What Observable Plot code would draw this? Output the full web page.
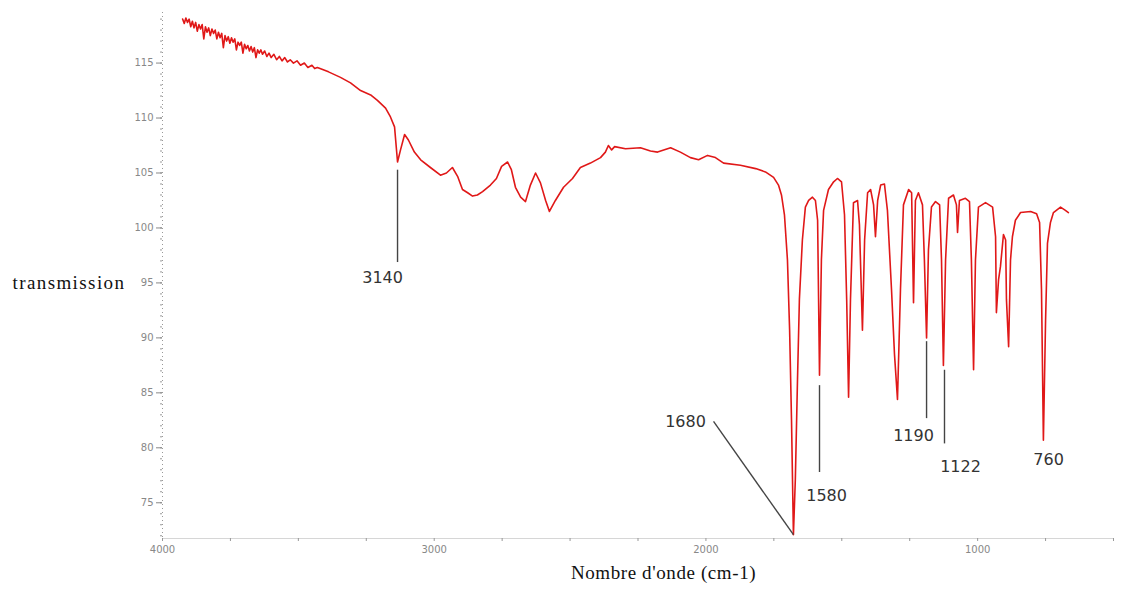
<!DOCTYPE html>
<html><head><meta charset="utf-8">
<script src="https://cdn.jsdelivr.net/npm/d3@7"></script>
<script src="https://cdn.jsdelivr.net/npm/@observablehq/plot@0.6"></script>
<style>body{margin:0;background:#fff}</style>
</head><body><div id="chart"></div>
<script>
// IR spectrum (wavenumber cm-1, transmission)
const wavenumber = [3926,3920,3914,3908,3902,3896,3890,3884,3878,3872,3866,3860,3854,3848,3842,3836,3830,3824,3818,3812,3806,3800,3794,3788,3782,3776,3770,3764,3758,3752,3746,3740,3734,3728,3722,3716,3710,3704,3698,3692,3686,3680,3674,3668,3662,3656,3650,3644,3638,3632,3624,3616,3608,3600,3590,3580,3570,3560,3550,3540,3530,3518,3505,3492,3478,3465,3450,3440,3430,3389,3345,3308,3271,3234,3209,3179,3161,3146,3135,3124,3109,3095,3073,3050,3014,2977,2955,2933,2914,2896,2877,2859,2841,2822,2793,2771,2752,2730,2716,2701,2682,2664,2646,2627,2609,2590,2576,2554,2524,2491,2462,2425,2388,2370,2359,2347,2336,2296,2241,2204,2178,2130,2094,2057,2027,1994,1965,1935,1873,1817,1781,1751,1733,1722,1711,1700,1692,1685,1678,1671,1663,1656,1645,1634,1622,1608,1597,1589,1582,1575,1567,1549,1530,1516,1501,1490,1482,1475,1468,1457,1442,1435,1424,1416,1405,1394,1383,1376,1368,1357,1343,1332,1317,1306,1295,1284,1273,1254,1243,1236,1229,1218,1203,1196,1188,1181,1170,1155,1140,1133,1126,1118,1107,1089,1078,1074,1067,1045,1030,1023,1015,1008,997,971,945,934,931,923,916,905,897,894,886,879,872,861,842,805,783,772,765,758,750,743,732,721,695,677,666];
const transmission = [119.0,118.6,119.1,118.7,119.0,118.3,118.8,118.2,118.7,117.9,118.5,118.1,118.5,117.2,118.3,117.8,118.2,117.5,118.1,117.7,118.0,117.2,117.8,117.3,117.7,116.4,117.5,117.0,117.4,116.8,117.3,116.9,117.2,116.2,116.9,116.6,116.9,115.9,116.7,116.3,116.6,116.1,116.5,116.0,116.4,115.5,116.2,115.9,116.2,115.8,116.1,115.6,115.9,115.5,115.8,115.3,115.6,115.2,115.5,115.1,115.3,115.0,115.2,114.8,115.0,114.6,114.8,114.5,114.6,114.2,113.7,113.2,112.5,112.1,111.6,110.9,110.1,109.2,106.0,107.1,108.5,108.0,106.9,106.2,105.5,104.8,105.0,105.5,104.7,103.5,103.2,102.9,103.0,103.3,103.9,104.5,105.6,106.0,105.3,103.7,102.8,102.4,103.9,105.0,104.1,102.5,101.5,102.5,103.7,104.5,105.5,105.9,106.4,106.9,107.5,107.1,107.4,107.2,107.3,107.0,106.9,107.3,106.9,106.4,106.2,106.6,106.4,105.9,105.7,105.4,105.1,104.6,103.9,103.0,101.2,97.1,90.7,82.5,72.1,77.1,86.2,93.5,98.9,101.9,102.5,102.8,102.5,100.7,86.6,97.1,101.6,103.5,104.2,104.5,104.2,101.2,93.5,84.6,93.5,102.3,102.5,100.3,90.7,98.9,103.2,103.5,102.1,99.2,102.5,103.9,104.0,101.6,94.4,88.5,84.4,94.4,102.1,103.5,103.2,93.2,102.5,103.2,102.1,97.1,90.0,98.0,101.9,102.4,102.1,97.1,87.5,97.1,102.7,103.0,102.1,99.6,102.5,102.7,102.4,97.1,87.1,97.1,101.9,102.3,101.9,99.2,92.3,95.3,96.5,99.4,98.9,93.5,89.2,97.1,99.2,100.7,101.4,101.5,101.3,100.5,94.4,80.7,91.6,98.6,100.5,101.4,101.9,101.6,101.4];

// Axis ticks
const xDomain = [4000, 500];
const yDomain = [71.75, 119.6];
const xLabelTicks = [4000, 3000, 2000, 1000];
const xMinorTicks = [4000,3750,3500,3250,3000,2750,2500,2250,2000,1750,1500,1250,1000,750,500];
const yLabelTicks = [75,80,85,90,95,100,105,110,115];
const yMinorTicks = [72,73,74,75,76,77,78,79,80,81,82,83,84,85,86,87,88,89,90,91,92,93,94,95,96,97,98,99,100,101,102,103,104,105,106,107,108,109,110,111,112,113,114,115,116,117,118,119];

// Peak annotations
const annLabels = ["3140","1680","1580","1190","1122","760"];
const annLabelX = [3190,2075,1556,1236,1063,739];
const annLabelY = [95.5,82.4,75.6,81.1,78.3,78.9];
const leaderX1 = [3135,1972,1582,1188,1122];
const leaderY1 = [105.3,82.4,85.7,89.7,87.1];
const leaderX2 = [3135,1678,1582,1188,1122];
const leaderY2 = [96.9,72.1,77.8,82.7,80.4];

const yTitle = "transmission";
const yTitleAt = 95;
const xTitle = "Nombre d'onde (cm-1)";
const xTitleAt = 2156;

const spectrum = wavenumber.map((w, i) => ({w, t: transmission[i]}));
const labels = annLabels.map((s, i) => ({s, x: annLabelX[i], y: annLabelY[i]}));
const leaders = leaderX1.map((x1, i) => ({x1, y1: leaderY1[i], x2: leaderX2[i], y2: leaderY2[i]}));

const chart = Plot.plot({
  width: 1133, height: 597,
  marginLeft: 162, marginRight: 20, marginTop: 12, marginBottom: 59,
  style: {background: "#fff"},
  x: {domain: xDomain},
  y: {domain: yDomain},
  marks: [
    Plot.ruleY([yDomain[0]], {stroke: "#d6d6d6", strokeWidth: 1.2}),
    Plot.ruleX([xDomain[0]], {stroke: "#999", strokeDasharray: "1,3"}),
    Plot.axisY(yMinorTicks, {tickSize: 2, tickFormat: () => "", color: "#999", label: null}),
    Plot.axisY(yLabelTicks, {tickSize: 6, tickPadding: 3, fontSize: 10, color: "#888", fontFamily: "DejaVu Sans", label: null}),
    Plot.axisX(xMinorTicks, {tickSize: 3, tickFormat: () => "", color: "#999", label: null}),
    Plot.axisX(xLabelTicks, {tickSize: 0, tickPadding: 7, fontSize: 10, color: "#888", fontFamily: "DejaVu Sans", tickFormat: d => String(d), label: null}),
    Plot.line(spectrum, {x: "w", y: "t", stroke: "#e01818", strokeWidth: 1.6, strokeLinejoin: "round"}),
    Plot.link(leaders, {x1: "x1", y1: "y1", x2: "x2", y2: "y2", stroke: "#444", strokeWidth: 1.4}),
    Plot.text(labels, {x: "x", y: "y", text: "s", fontSize: 16, fill: "#333", fontFamily: "DejaVu Sans"}),
    Plot.text([yTitle], {frameAnchor: "left", y: [yTitleAt], text: d => d, textAnchor: "start", dx: -150, fontSize: 19, fill: "#111", fontFamily: "Liberation Serif"}),
    Plot.text([xTitle], {frameAnchor: "bottom", x: [xTitleAt], text: d => d, dy: 40, fontSize: 19, fill: "#111", fontFamily: "Liberation Serif"})
  ]
});
d3.select(chart).selectAll("text").filter(function(){ return this.textContent === yTitle; }).attr("letter-spacing", "1.4px");
d3.select(chart).selectAll("text").filter(function(){ return this.textContent === xTitle; }).attr("letter-spacing", "0.6px");
document.getElementById("chart").appendChild(chart);
</script>
</body></html>
